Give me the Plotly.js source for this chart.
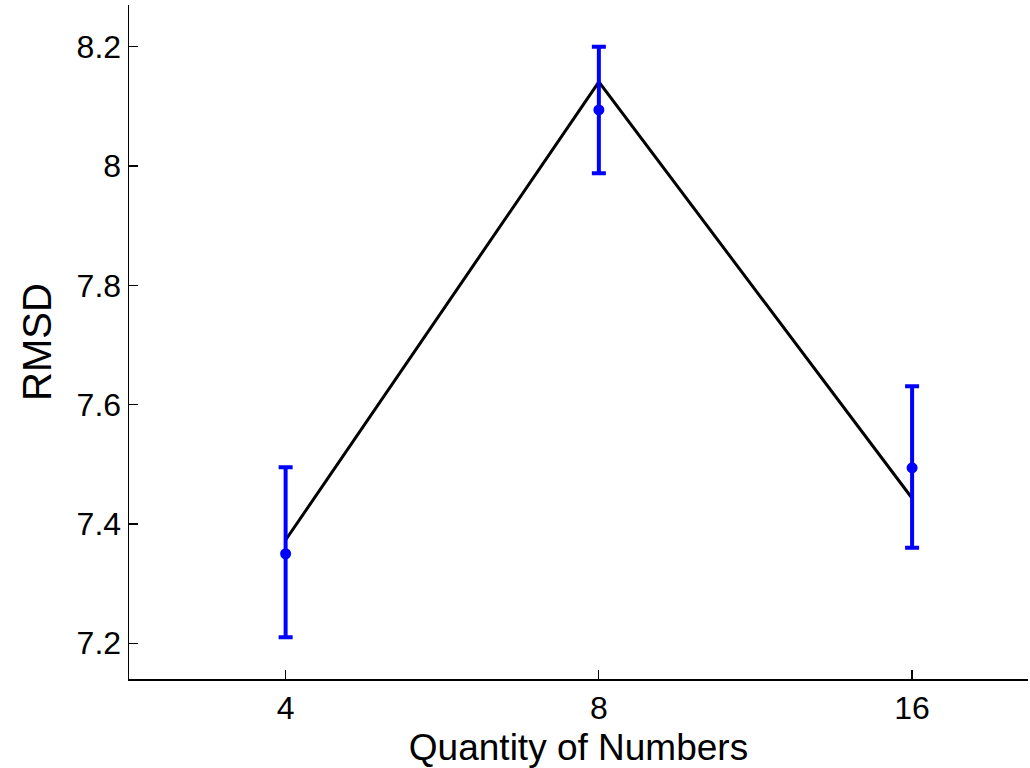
<!DOCTYPE html>
<html>
<head>
<meta charset="utf-8">
<script src="https://cdn.plot.ly/plotly-3.0.1.min.js"></script>
<style>html,body{margin:0;padding:0;background:#fff;}#chart{width:1030px;height:768px;}</style>
</head>
<body>
<div id="chart"></div>
<script>
const categories = ['4', '8', '16'];
const lineValues = [7.373, 8.141, 7.443];
const meanValues = [7.350, 8.094, 7.494];
const errPlus = [0.145, 0.106, 0.137];
const errMinus = [0.140, 0.106, 0.134];

const traces = [
  {
    x: categories, y: lineValues, type: 'scatter', mode: 'lines',
    line: {color: '#000000', width: 3}, showlegend: false, hoverinfo: 'skip'
  },
  {
    x: categories, y: meanValues, type: 'scatter', mode: 'markers',
    marker: {color: '#0000ff', size: 11},
    error_y: {type: 'data', symmetric: false, array: errPlus, arrayminus: errMinus,
              color: '#0000ff', thickness: 4, width: 7},
    showlegend: false
  }
];

const font = {family: 'Liberation Sans, Arial, sans-serif', color: '#000000'};
const layout = {
  width: 1030, height: 768,
  margin: {l: 129, r: 2, t: 5, b: 89},
  paper_bgcolor: '#ffffff', plot_bgcolor: '#ffffff',
  font: font,
  xaxis: {
    type: 'category', range: [-0.5, 2.37], automargin: false,
    showline: true, linecolor: '#000', linewidth: 1.5, mirror: false,
    ticks: 'inside', ticklen: 9, tickwidth: 1.2, tickcolor: '#000',
    showgrid: false, zeroline: false,
    tickfont: {family: font.family, size: 32, color: '#000'},
    title: {text: 'Quantity of Numbers', font: {family: font.family, size: 37, color: '#000'}, standoff: 12}
  },
  yaxis: {
    range: [7.14, 8.27], automargin: false,
    tickvals: [7.2, 7.4, 7.6, 7.8, 8.0, 8.2],
    ticktext: ['7.2', '7.4', '7.6', '7.8', '8', '8.2'],
    showline: true, linecolor: '#000', linewidth: 1.5, mirror: false,
    ticks: 'inside', ticklen: 9, tickwidth: 1.2, tickcolor: '#000',
    showgrid: false, zeroline: false,
    tickfont: {family: font.family, size: 32, color: '#000'},
    title: {text: 'RMSD', font: {family: font.family, size: 40, color: '#000'}, standoff: 12}
  }
};

Plotly.newPlot('chart', traces, layout, {displayModeBar: false, staticPlot: true});
</script>
</body>
</html>
